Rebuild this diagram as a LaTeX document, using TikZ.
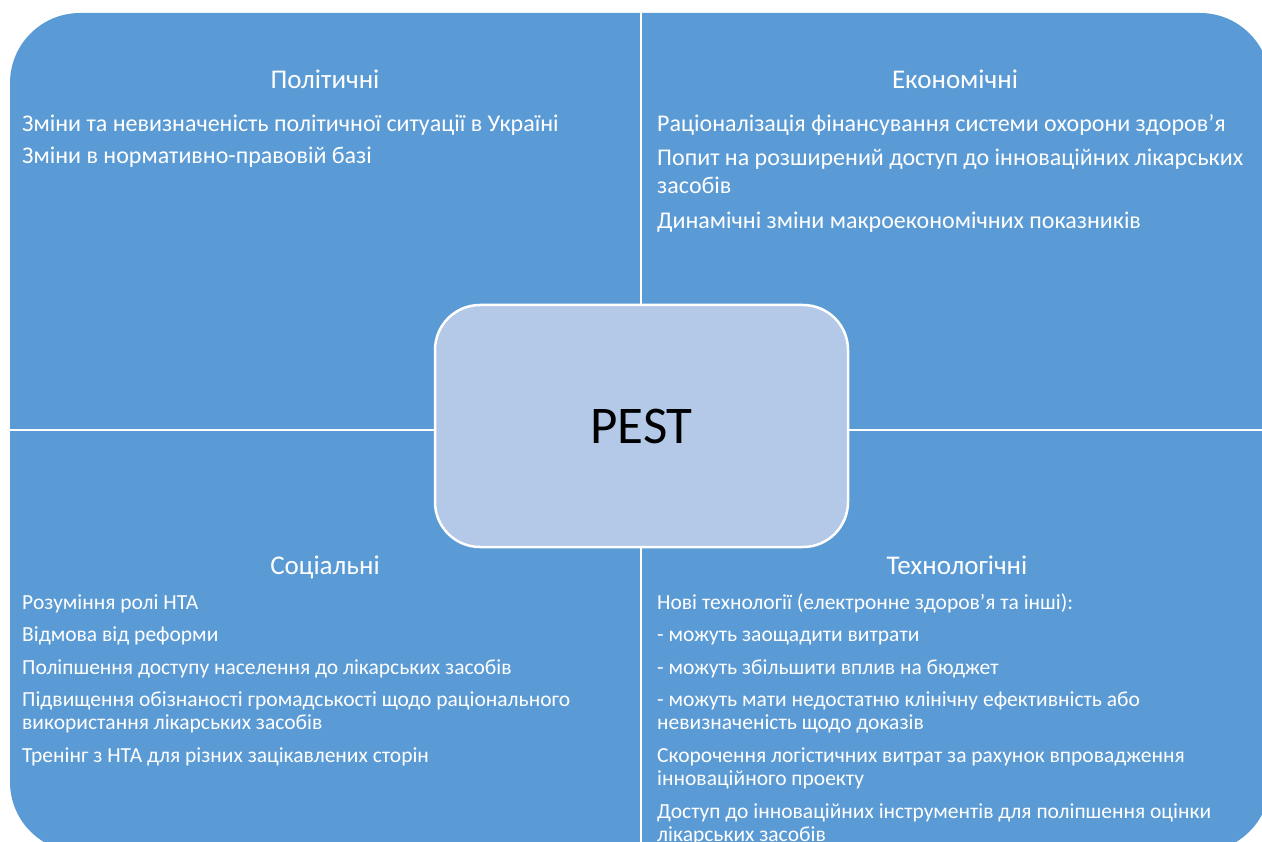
\documentclass[tikz,border=0pt]{standalone}
\usepackage{fontspec}
\setmainfont{Carlito}
\usetikzlibrary{positioning}
\definecolor{quadblue}{HTML}{5B9BD5}
\definecolor{pestblue}{HTML}{B4C8E7}
\tikzset{
  head/.style={text=white, font=\fontsize{27}{32}\selectfont, anchor=base, inner sep=0pt},
  item/.style={text=white, font=\fontsize{24}{28}\selectfont, anchor=base west, align=left, inner sep=0pt},
  itemsm/.style={text=white, font=\fontsize{21.5}{23}\selectfont, anchor=base west, align=left, inner sep=0pt},
}
\begin{document}
\begin{tikzpicture}[x=1pt, y=-1pt]
  \useasboundingbox (0,0) rectangle (1262,842);
  \clip (0,0) rectangle (1262,842);
  \fill[quadblue, rounded corners=70pt] (10,13) rectangle (1270,852);
  \draw[white, line width=2.5pt] (641,13) -- (641,852);
  \draw[white, line width=2.5pt] (10,430) -- (1270,430);
  \node[draw=white, line width=2.5pt, fill=pestblue, rounded corners=45pt,
        minimum width=413pt, minimum height=242pt,
        font=\fontsize{53}{60}\selectfont] (pest) at (641.5,426) {\raisebox{-3pt}{PEST}};

  \node[head] (pol) at (325,89) {Політичні};
  \node[item] (pol1) at (22,132) {Зміни та невизначеність політичної ситуації в Україні};
  \node[item] (pol2) at (22,164) {Зміни в нормативно-правовій базі};

  \node[head] (eco) at (955,89) {Економічні};
  \node[item] (eco1) at (657,132) {Раціоналізація фінансування системи охорони здоров’я};
  \node[item] (eco2) at (657,194) {Попит на розширений доступ до інноваційних лікарських\\засобів};
  \node[item] (eco3) at (657,229) {Динамічні зміни макроекономічних показників};

  \node[head] (soc) at (325,574) {Соціальні};
  \node[itemsm] (soc1) at (22,609) {Розуміння ролі НТА};
  \node[itemsm] (soc2) at (22,641) {Відмова від реформи};
  \node[itemsm] (soc3) at (22,674) {Поліпшення доступу населення до лікарських засобів};
  \node[itemsm] (soc4) at (22,729.5) {Підвищення обізнаності громадськості щодо раціонального\\використання лікарських засобів};
  \node[itemsm] (soc5) at (22,762) {Тренінг з НТА для різних зацікавлених сторін};

  \node[head] (tech) at (957,574) {Технологічні};
  \node[itemsm] (tech1) at (657,609) {Нові технології (електронне здоров'я та інші):};
  \node[itemsm] (tech2) at (657,641) {- можуть заощадити витрати};
  \node[itemsm] (tech3) at (657,674) {- можуть збільшити вплив на бюджет};
  \node[itemsm] (tech4) at (657,729.5) {- можуть мати недостатню клінічну ефективність або\\невизначеність щодо доказів};
  \node[itemsm] (tech5) at (657,785) {Скорочення логістичних витрат за рахунок впровадження\\інноваційного проекту};
  \node[itemsm] (tech6) at (657,841) {Доступ до інноваційних інструментів для поліпшення оцінки\\лікарських засобів};
\end{tikzpicture}
\end{document}
